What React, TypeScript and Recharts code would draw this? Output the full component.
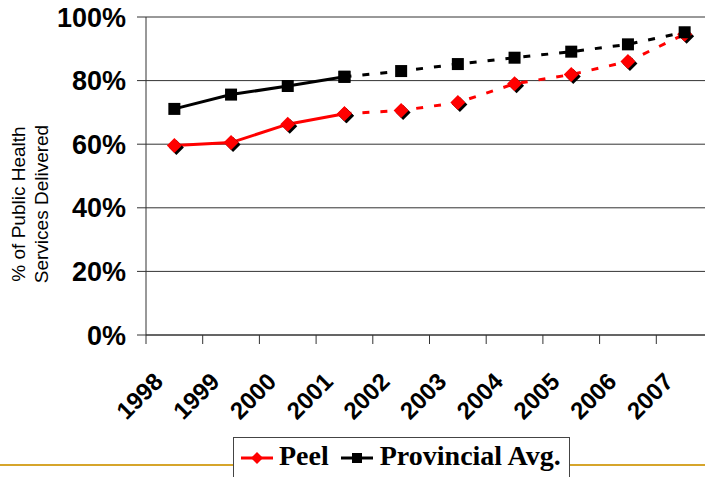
import { LineChart, Line, XAxis, YAxis, CartesianGrid, Legend } from 'recharts'

const years = ['1998', '1999', '2000', '2001', '2002', '2003', '2004', '2005', '2006', '2007']
const peel = [59.6, 60.5, 66.3, 69.6, 70.6, 73.1, 79.0, 81.9, 86.0, 94.6]
const provincial = [71.1, 75.6, 78.3, 81.2, 83.0, 85.2, 87.2, 89.1, 91.4, 95.2]
const yTicks = [0, 20, 40, 60, 80, 100]
// 2001 is the last actual year, the rest is drawn dashed
const LAST_ACTUAL = 3

const W = 713
const H = 477
const LEFT = 146
const TOP = 17
const PLOT_H = 318
const PLOT_W = W - LEFT
const HALF_STEP = PLOT_W / years.length / 2

const SANS = '"Liberation Sans", Arial, sans-serif'
const SERIF = '"Liberation Serif", "Times New Roman", serif'

const data = years.map((year, i) => ({
  x: i + 0.5,
  year,
  peelSolid: i <= LAST_ACTUAL ? peel[i] : null,
  peelDash: i >= LAST_ACTUAL ? peel[i] : null,
  provSolid: i <= LAST_ACTUAL ? provincial[i] : null,
  provDash: i >= LAST_ACTUAL ? provincial[i] : null,
}))

function Diamond({ cx, cy }: { cx?: number; cy?: number }) {
  if (cx == null || cy == null) return null
  const r = 7.5
  const pts = (dx: number, dy: number) =>
    `${cx + dx},${cy + dy - r} ${cx + dx + r},${cy + dy} ${cx + dx},${cy + dy + r} ${cx + dx - r},${cy + dy}`
  return (
    <g>
      <polygon points={pts(2, 2)} fill="#000" />
      <polygon points={pts(0, 0)} fill="#ff0000" />
    </g>
  )
}

function Square({ cx, cy }: { cx?: number; cy?: number }) {
  if (cx == null || cy == null) return null
  return <rect x={cx - 6} y={cy - 6} width={12} height={12} fill="#000" />
}

function YearTick({ x, y, payload }: { x?: number; y?: number; payload?: { value: number } }) {
  const year = years[payload?.value ?? -1]
  if (!year || x == null || y == null) return <g />
  const tx = x + HALF_STEP - 10
  const ty = y + 39
  return (
    <text
      x={tx} y={ty}
      transform={`rotate(-45 ${tx} ${ty})`}
      textAnchor="end"
      fontFamily={SANS} fontWeight="bold" fontSize={24} fill="#000"
    >{year}</text>
  )
}

function YLabel({ viewBox }: { viewBox?: { y: number; height: number } }) {
  const cy = (viewBox?.y ?? 0) + (viewBox?.height ?? 0) / 2 + 28
  return (
    <g fontFamily={SANS} fontSize={19} fill="#000">
      <text x={25} y={cy} textAnchor="middle" transform={`rotate(-90 25 ${cy})`}>% of Public Health</text>
      <text x={48} y={cy} textAnchor="middle" transform={`rotate(-90 48 ${cy})`}>Services Delivered</text>
    </g>
  )
}

function LegendIcon({ color, square }: { color: string; square?: boolean }) {
  return (
    <svg width={32} height={28} style={{ display: 'block' }}>
      <line x1={0} y1={16} x2={32} y2={16} stroke={color} strokeWidth={3} />
      {square
        ? <rect x={11} y={11} width={10} height={10} fill={color} />
        : <polygon points="16,10 22,16 16,22 10,16" fill={color} />}
    </svg>
  )
}

function LegendBox() {
  return (
    <div style={{ position: 'relative', height: 0 }}>
      <div style={{
        position: 'absolute', left: 0, top: 0,
        boxSizing: 'border-box', height: 50,
        border: '1px solid #444', background: '#fff',
        padding: '4px 8px 0 7px',
        display: 'flex', alignItems: 'flex-start',
        fontFamily: SERIF, fontWeight: 'bold', fontSize: 28, lineHeight: '28px',
        color: '#000', whiteSpace: 'nowrap',
      }}>
        <LegendIcon color="#ff0000" />
        <span style={{ marginLeft: 6 }}>Peel</span>
        <span style={{ marginLeft: 12 }}><LegendIcon color="#000" square /></span>
        <span style={{ marginLeft: 7 }}>Provincial Avg.</span>
      </div>
    </div>
  )
}

export default function App() {
  return (
    <div style={{
      position: 'absolute', left: 0, top: 0,
      width: 705, height: 477, overflow: 'hidden', background: '#fff',
    }}>
      <div style={{
        position: 'absolute', left: 0, top: 464, width: 705, height: 2,
        background: '#d6a52b',
      }} />
      <LineChart width={W} height={H} data={data} margin={{ top: TOP, right: 0, bottom: 0, left: 0 }}>
        <CartesianGrid vertical={false} stroke="#333" />
        <XAxis
          dataKey="x" type="number"
          domain={[0, years.length]}
          ticks={[...years.map((_, i) => i), years.length]}
          interval={0}
          height={H - TOP - PLOT_H}
          tickSize={9} tickMargin={0}
          stroke="#333"
          tick={<YearTick />}
        />
        <YAxis
          domain={[0, 100]} ticks={yTicks}
          tickFormatter={(v: number) => `${v}%`}
          width={LEFT}
          tickSize={9} tickMargin={11}
          stroke="#333"
          tick={{ fontFamily: SANS, fontWeight: 'bold', fontSize: 27, fill: '#000' }}
          label={<YLabel />}
        />
        <Legend verticalAlign="bottom" content={<LegendBox />}
          wrapperStyle={{ left: 233, top: 437, bottom: 'auto', width: 'auto', height: 0 }} />
        <Line dataKey="peelSolid" stroke="#ff0000" strokeWidth={3} dot={<Diamond />}
          activeDot={false} isAnimationActive={false} legendType="none" />
        <Line dataKey="peelDash" stroke="#ff0000" strokeWidth={3} strokeDasharray="7 11" dot={<Diamond />}
          activeDot={false} isAnimationActive={false} legendType="none" />
        <Line dataKey="provSolid" stroke="#000" strokeWidth={3} dot={<Square />}
          activeDot={false} isAnimationActive={false} legendType="none" />
        <Line dataKey="provDash" stroke="#000" strokeWidth={3} strokeDasharray="7 11" dot={<Square />}
          activeDot={false} isAnimationActive={false} legendType="none" />
      </LineChart>
    </div>
  )
}
